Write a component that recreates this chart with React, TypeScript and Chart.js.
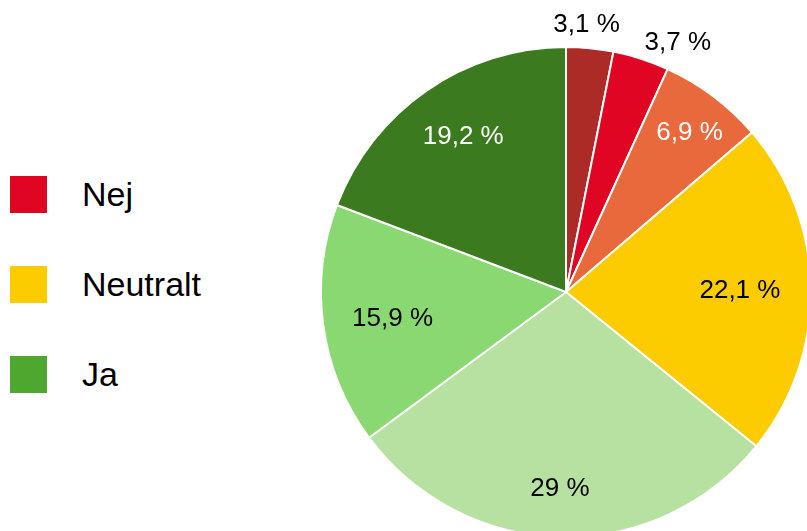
import React, { useEffect, useRef } from "react";
import { Chart, registerables } from "chart.js";

Chart.register(...registerables);

const sliceLabels = ["Nej (starkt)", "Nej", "Nej (delvis)", "Neutralt", "Ja (delvis)", "Ja", "Ja (starkt)"];
const sliceValues = [3.1, 3.7, 6.9, 22.1, 29, 15.9, 19.2];
const sliceColors = ["#ad2b26", "#e10524", "#e86a3c", "#fccb00", "#b6e1a0", "#8ad872", "#3b7a1f"];
const labelTextColors = ["#000", "#000", "#fff", "#000", "#000", "#000", "#fff"];
const labelRadius = [1.097, 1.12, 0.826, 0.71, 0.8, 0.716, 0.762];
const labelAngleShift = [-1.2, 6.2, 0.7, 0, 0.5, -0.7, 1.2];

const legendNames = ["Nej", "Neutralt", "Ja"];
const legendColors = ["#e10524", "#fccb00", "#4ea72e"];

const fmt = (v: number) => String(v).replace(".", ",") + " %";

const labelPlugin = {
  id: "sliceLabels",
  afterDatasetsDraw(chart: any) {
    const meta = chart.getDatasetMeta(0);
    const ctx = chart.ctx;
    ctx.save();
    ctx.font = "26px 'Liberation Sans', Arial, sans-serif";
    ctx.textAlign = "center";
    ctx.textBaseline = "middle";
    meta.data.forEach((arc: any, i: number) => {
      const { x, y, startAngle, endAngle, outerRadius } = arc.getProps(
        ["x", "y", "startAngle", "endAngle", "outerRadius"],
        true
      );
      const mid = (startAngle + endAngle) / 2 + (labelAngleShift[i] * Math.PI) / 180;
      const r = outerRadius * labelRadius[i];
      ctx.fillStyle = labelTextColors[i];
      ctx.fillText(fmt(sliceValues[i]), x + Math.cos(mid) * r, y + Math.sin(mid) * r + 1);
    });
    ctx.restore();
  },
};

export default function App() {
  const ref = useRef<HTMLCanvasElement | null>(null);
  useEffect(() => {
    if (!ref.current) return;
    const chart = new Chart(ref.current, {
      type: "pie",
      data: {
        labels: sliceLabels,
        datasets: [
          {
            data: sliceValues,
            backgroundColor: sliceColors,
            borderColor: "#ffffff",
            borderWidth: 2,
          },
        ],
      },
      options: {
        responsive: false,
        animation: false,
        layout: { padding: { left: 20, right: 28, top: 46, bottom: 22 } },
        plugins: { legend: { display: false }, tooltip: { enabled: false } },
      },
      plugins: [labelPlugin],
    });
    return () => chart.destroy();
  }, []);

  return (
    <div
      style={{
        position: "fixed",
        left: 0,
        top: 0,
        width: "100vw",
        height: "100vh",
        overflow: "hidden",
        background: "#fff",
        fontFamily: "'Liberation Sans', Arial, sans-serif",
      }}
    >
      <div style={{ position: "absolute", left: 300, top: 0, width: 540, height: 560 }}>
        <canvas ref={ref} width={540} height={560} style={{ width: 540, height: 560 }} />
      </div>
      {legendNames.map((name, i) => (
        <div
          key={name}
          style={{
            position: "absolute",
            left: 10,
            top: 176 + i * 90,
            height: 37,
            display: "flex",
            alignItems: "center",
          }}
        >
          <div style={{ width: 37, height: 37, background: legendColors[i] }} />
          <span style={{ marginLeft: 35, fontSize: 34, lineHeight: "37px", color: "#000" }}>{name}</span>
        </div>
      ))}
    </div>
  );
}
